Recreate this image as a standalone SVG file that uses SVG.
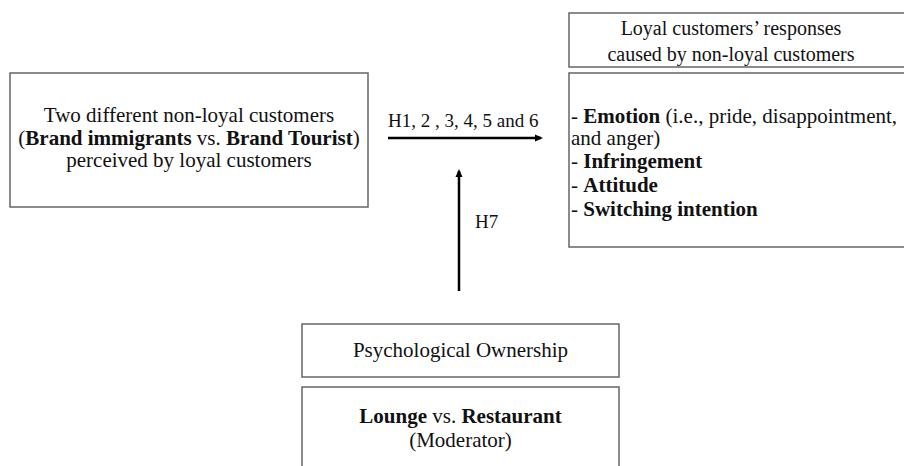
<svg xmlns="http://www.w3.org/2000/svg" width="904" height="466" viewBox="0 0 904 466">
<style>
.box{fill:#fff;stroke:#666;stroke-width:1.5}
text{font-family:"Times New Roman",Times,"Liberation Serif",Tinos,"Nimbus Roman","DejaVu Serif",serif;font-size:21px;fill:#111}
.c{text-anchor:middle}
.b{font-weight:bold}
.lab{font-size:19px}
.conn{stroke:#000;stroke-width:2.5;fill:none}
</style>
<defs>
<marker id="ah" markerWidth="8" markerHeight="8" refX="6" refY="4" orient="auto" markerUnits="userSpaceOnUse">
<path d="M0,0.5 L8,4 L0,7.5 Z" fill="#000"/>
</marker>
</defs>
<rect width="904" height="466" fill="#fff"/>
<g id="nonloyal">
<rect class="box" x="10" y="73" width="358" height="134"/>
<text class="c" x="189" y="122">Two different non-loyal customers</text>
<text class="c" x="189" y="144.5">(<tspan class="b">Brand immigrants</tspan> vs. <tspan class="b">Brand Tourist</tspan>)</text>
<text class="c" x="189" y="167">perceived by loyal customers</text>
</g>
<g id="responses-title">
<rect class="box" x="569" y="13" width="345" height="54"/>
<text class="c" x="731" y="35" style="font-size:20px">Loyal customers’ responses</text>
<text class="c" x="731" y="61" style="font-size:20px">caused by non-loyal customers</text>
</g>
<g id="responses">
<rect class="box" x="569" y="73" width="345" height="174"/>
<text x="571" y="123">- <tspan class="b">Emotion</tspan> (i.e., pride, disappointment,</text>
<text x="571" y="145">and anger)</text>
<text x="571" y="168">- <tspan class="b">Infringement</tspan></text>
<text x="571" y="192">- <tspan class="b">Attitude</tspan></text>
<text x="571" y="216">- <tspan class="b">Switching intention</tspan></text>
</g>
<g id="ownership">
<rect class="box" x="302" y="324" width="317" height="53"/>
<text class="c" x="460.5" y="357">Psychological Ownership</text>
</g>
<g id="moderator">
<rect class="box" x="302" y="387" width="317" height="90"/>
<text class="c" x="460.5" y="423"><tspan class="b">Lounge</tspan> vs. <tspan class="b">Restaurant</tspan></text>
<text class="c" x="460.5" y="447">(Moderator)</text>
</g>
<g id="connectors">
<line class="conn" x1="388" y1="138" x2="541" y2="138" marker-end="url(#ah)"/>
<text class="lab" x="388" y="127">H1, 2 , 3, 4, 5 and 6</text>
<line class="conn" x1="459" y1="291" x2="459" y2="171" marker-end="url(#ah)"/>
<text class="lab" x="475" y="228">H7</text>
</g>
</svg>
